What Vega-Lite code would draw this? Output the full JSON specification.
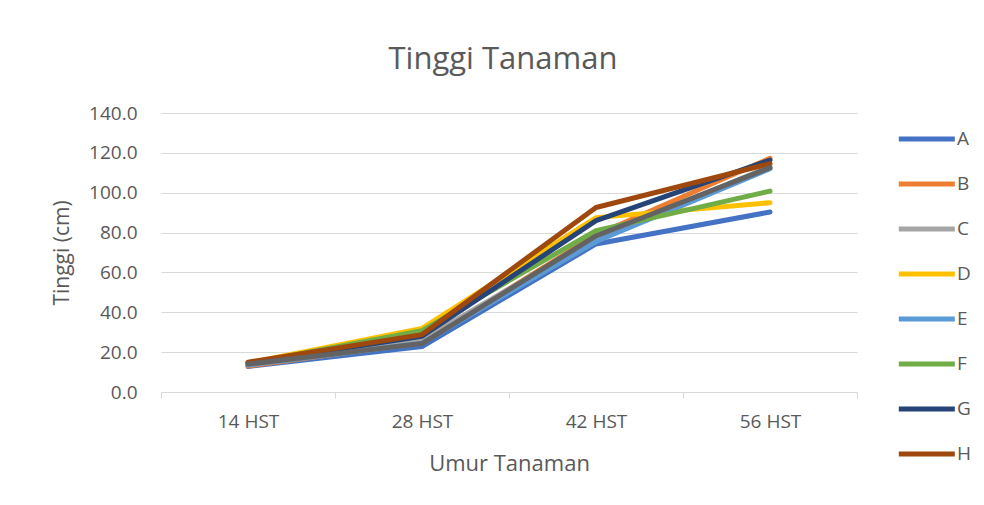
{
  "$schema": "https://vega.github.io/schema/vega-lite/v6.json",
  "autosize": "none",
  "width": 696,
  "height": 279,
  "padding": {"left": 161, "top": 113, "right": 127, "bottom": 113},
  "background": "white",
  "config": {
    "font": "Open Sans",
    "view": {"stroke": null},
    "title": {"font": "Open Sans", "fontSize": 31, "fontWeight": "normal", "color": "#595959"},
    "axis": {"labelFont": "Open Sans", "titleFont": "Open Sans", "labelColor": "#595959", "titleColor": "#595959", "titleFontWeight": "normal"},
    "legend": {"labelFont": "Open Sans", "labelColor": "#595959"}
  },
  "title": {"text": "Tinggi Tanaman", "anchor": "middle", "offset": 28, "dx": -6},
  "data": {
    "values": [
      {"umur": "14 HST", "perlakuan": "A", "tinggi": 12.8},
      {"umur": "28 HST", "perlakuan": "A", "tinggi": 22.8},
      {"umur": "42 HST", "perlakuan": "A", "tinggi": 74.3},
      {"umur": "56 HST", "perlakuan": "A", "tinggi": 90.3},
      {"umur": "14 HST", "perlakuan": "B", "tinggi": 13.0},
      {"umur": "28 HST", "perlakuan": "B", "tinggi": 24.8},
      {"umur": "42 HST", "perlakuan": "B", "tinggi": 78.8},
      {"umur": "56 HST", "perlakuan": "B", "tinggi": 117.3},
      {"umur": "14 HST", "perlakuan": "C", "tinggi": 13.8},
      {"umur": "28 HST", "perlakuan": "C", "tinggi": 26.3},
      {"umur": "42 HST", "perlakuan": "C", "tinggi": 77.0},
      {"umur": "56 HST", "perlakuan": "C", "tinggi": 113.0},
      {"umur": "14 HST", "perlakuan": "D", "tinggi": 14.5},
      {"umur": "28 HST", "perlakuan": "D", "tinggi": 31.9},
      {"umur": "42 HST", "perlakuan": "D", "tinggi": 87.5},
      {"umur": "56 HST", "perlakuan": "D", "tinggi": 95.0},
      {"umur": "14 HST", "perlakuan": "E", "tinggi": 13.5},
      {"umur": "28 HST", "perlakuan": "E", "tinggi": 24.5},
      {"umur": "42 HST", "perlakuan": "E", "tinggi": 75.5},
      {"umur": "56 HST", "perlakuan": "E", "tinggi": 112.0},
      {"umur": "14 HST", "perlakuan": "F", "tinggi": 14.2},
      {"umur": "28 HST", "perlakuan": "F", "tinggi": 30.8},
      {"umur": "42 HST", "perlakuan": "F", "tinggi": 81.0},
      {"umur": "56 HST", "perlakuan": "F", "tinggi": 100.8},
      {"umur": "14 HST", "perlakuan": "G", "tinggi": 14.6},
      {"umur": "28 HST", "perlakuan": "G", "tinggi": 28.0},
      {"umur": "42 HST", "perlakuan": "G", "tinggi": 86.0},
      {"umur": "56 HST", "perlakuan": "G", "tinggi": 116.4},
      {"umur": "14 HST", "perlakuan": "H", "tinggi": 15.0},
      {"umur": "28 HST", "perlakuan": "H", "tinggi": 28.8},
      {"umur": "42 HST", "perlakuan": "H", "tinggi": 92.6},
      {"umur": "56 HST", "perlakuan": "H", "tinggi": 114.6},
      {"umur": "14 HST", "perlakuan": "I", "tinggi": 14.0},
      {"umur": "28 HST", "perlakuan": "I", "tinggi": 24.3},
      {"umur": "42 HST", "perlakuan": "I", "tinggi": 78.3},
      {"umur": "56 HST", "perlakuan": "I", "tinggi": 112.6}
    ]
  },
  "mark": {"type": "line", "strokeWidth": 5, "strokeCap": "round", "strokeJoin": "round"},
  "encoding": {
    "x": {
      "field": "umur",
      "type": "ordinal",
      "sort": ["14 HST", "28 HST", "42 HST", "56 HST"],
      "scale": {"paddingInner": 0, "paddingOuter": 0},
      "axis": {
        "title": "Umur Tanaman",
        "titleFontSize": 22,
        "titleY": 71,
        "titleBaseline": "middle",
        "labelAngle": 0,
        "labelFontSize": 19,
        "labelPadding": 14,
        "tickBand": "extent",
        "tickSize": 6,
        "tickColor": "#d9d9d9",
        "domainColor": "#d9d9d9",
        "grid": false
      }
    },
    "y": {
      "field": "tinggi",
      "type": "quantitative",
      "scale": {"domain": [0, 140], "nice": false},
      "axis": {
        "title": "Tinggi (cm)",
        "titleFontSize": 21,
        "titleX": -99,
        "titleY": 139.5,
        "titleAlign": "center",
        "titleBaseline": "middle",
        "values": [0, 20, 40, 60, 80, 100, 120, 140],
        "format": ".1f",
        "labelFontSize": 19,
        "labelPadding": 24,
        "ticks": false,
        "domain": false,
        "grid": true,
        "gridColor": "#d9d9d9",
        "gridWidth": 1
      }
    },
    "color": {
      "field": "perlakuan",
      "type": "nominal",
      "scale": {
        "domain": ["A", "B", "C", "D", "E", "F", "G", "H", "I"],
        "range": ["#4472C4", "#ED7D31", "#A5A5A5", "#FFC000", "#5B9BD5", "#70AD47", "#264478", "#9E480E", "#636363"]
      },
      "legend": {
        "title": null,
        "values": ["A", "B", "C", "D", "E", "F", "G", "H"],
        "orient": "none",
        "legendX": 735,
        "legendY": 12,
        "padding": 0,
        "symbolType": "M-1,0H4",
        "symbolSize": 502,
        "symbolStrokeWidth": 5,
        "labelFontSize": 19,
        "labelOffset": 33,
        "rowPadding": 21
      }
    }
  }
}
